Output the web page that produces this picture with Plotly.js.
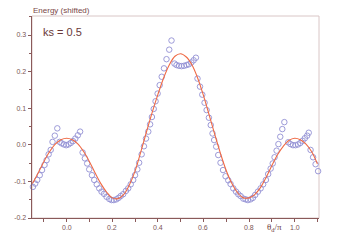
<!DOCTYPE html>
<html><head><meta charset="utf-8">
<script src="https://cdn.plot.ly/plotly-3.0.1.min.js"></script>
<style>html,body{margin:0;padding:0;background:#fff;}#chart{width:348px;height:245px;}</style>
</head><body><div id="chart"></div>
<script>
// Circle series (computed energies)
const thetaPts = [-0.148,-0.138,-0.129,-0.118,-0.108,-0.097,-0.088,-0.079,-0.070,-0.062,-0.052,-0.041,-0.031,-0.022,-0.012,-0.002,0.008,0.018,0.028,0.038,0.049,0.059,
0.070,0.080,0.090,0.099,0.111,0.121,0.132,0.143,0.153,0.164,0.175,0.187,0.197,0.207,0.218,0.228,0.237,0.248,0.260,0.270,0.281,0.292,0.300,0.310,0.318,0.329,0.339,0.348,0.358,
0.366,0.374,0.382,0.390,0.399,0.408,0.417,0.427,0.438,0.450,0.460,
0.473,0.482,0.493,0.504,0.515,0.526,0.536,0.547,0.557,0.567,
0.574,0.585,0.595,0.605,0.614,0.624,0.632,0.640,0.647,0.656,0.665,0.675,0.686,0.697,0.709,0.719,0.731,0.743,0.753,0.763,0.775,0.785,0.795,0.807,0.817,0.827,0.839,0.851,0.862,0.874,0.884,0.895,0.904,0.912,0.921,0.929,0.937,0.946,0.955,
0.972,0.982,0.993,1.004,1.015,1.025,1.035,1.045,1.055,1.062,
1.070,1.081,1.092,1.103];
const energyPts = [-0.115,-0.106,-0.096,-0.083,-0.069,-0.055,-0.042,-0.026,-0.014,0.008,0.025,0.045,0.008,0.004,0.001,-0.001,0.001,0.005,0.010,0.017,0.026,0.036,
-0.021,-0.037,-0.051,-0.067,-0.083,-0.096,-0.108,-0.119,-0.128,-0.134,-0.142,-0.148,-0.151,-0.151,-0.149,-0.145,-0.140,-0.135,-0.126,-0.119,-0.108,-0.096,-0.083,-0.067,-0.049,-0.026,-0.004,0.017,0.036,
0.056,0.076,0.098,0.119,0.140,0.163,0.186,0.209,0.234,0.260,0.285,
0.222,0.218,0.216,0.215,0.216,0.218,0.220,0.225,0.231,0.238,
0.181,0.159,0.137,0.115,0.095,0.074,0.054,0.031,0.013,-0.005,-0.028,-0.049,-0.069,-0.086,-0.097,-0.107,-0.119,-0.128,-0.135,-0.140,-0.147,-0.149,-0.151,-0.149,-0.145,-0.137,-0.128,-0.119,-0.108,-0.096,-0.080,-0.065,-0.051,-0.034,-0.016,0.002,0.022,0.043,0.062,
0.007,0.002,-0.001,-0.001,0.001,0.005,0.011,0.018,0.025,0.033,
-0.014,-0.034,-0.053,-0.072];

// Model curve (red line)
const thetaLine = [-0.15,-0.125,-0.1,-0.075,-0.05,-0.025,0,0.025,0.05,0.075,0.1,0.125,0.15,0.175,0.2,0.225,0.25,0.275,0.3,0.325,0.35,0.375,0.4,0.425,0.45,0.475,0.5,
0.525,0.55,0.575,0.6,0.625,0.65,0.675,0.7,0.725,0.75,0.775,0.8,0.825,0.85,0.875,0.9,0.925,0.95,0.975,1.0,1.025,1.05,1.075,1.1];
const energyLine = [-0.106,-0.077,-0.046,-0.019,0.002,0.014,0.018,0.014,0.002,-0.019,-0.046,-0.077,-0.106,-0.129,-0.145,-0.147,-0.136,-0.110,-0.072,-0.020,0.035,0.088,0.137,0.182,0.218,0.242,0.249,
0.240,0.218,0.182,0.135,0.082,0.028,-0.024,-0.070,-0.106,-0.131,-0.145,-0.145,-0.136,-0.117,-0.089,-0.057,-0.027,-0.004,0.012,0.018,0.014,0.002,-0.019,-0.052];

// Axis ticks
const xTickVals = [-0.1,0.0,0.1,0.2,0.3,0.4,0.5,0.6,0.7,0.8,0.9,1.0,1.1];
const xLabelVals = [0.0,0.2,0.4,0.6,0.8,1.0];
const xLabelText = ["0.0","0.2","0.4","0.6","0.8","1.0"];
const yTickVals = [-0.2,-0.1,0.0,0.1,0.2,0.3];
const yTickText = ["-0.2","-0.1","0.0","0.1","0.2","0.3"];

const axisCol = '#8a5a5a';
const txtCol = '#7a5555';

const traces = [
  {x: thetaPts, y: energyPts, type:'scatter', mode:'markers', cliponaxis:false,
   marker:{symbol:'circle-open', size:5.5, color:'#9290d4', line:{width:0.9, color:'#9290d4'}}, hoverinfo:'none'},
  {x: thetaLine, y: energyLine, type:'scatter', mode:'lines',
   line:{color:'#ef6a45', width:1.1, shape:'spline', smoothing:1}, hoverinfo:'none'}
];

const tickAnnots = xLabelVals.map((v, i) => ({
  xref:'x', yref:'paper', x:v, y:0, xanchor:'center', yanchor:'top', yshift:-4, showarrow:false,
  text:xLabelText[i], font:{size:7, color:txtCol, family:'Liberation Sans, Arial, sans-serif'}
}));

const layout = {
  width:348, height:245,
  margin:{l:32, r:29, t:16, b:27},
  paper_bgcolor:'#ffffff', plot_bgcolor:'#ffffff',
  showlegend:false,
  font:{family:'Liberation Sans, Arial, sans-serif', color:txtCol, size:7},
  xaxis:{range:[-0.152,1.107], tickmode:'array', tickvals:xTickVals, showticklabels:false, showgrid:false, zeroline:false,
    showline:true, linecolor:axisCol, linewidth:1.4, ticks:'outside', ticklen:3, tickwidth:1, tickcolor:axisCol},
  yaxis:{range:[-0.2,0.352], tickmode:'array', tickvals:yTickVals, ticktext:yTickText, showgrid:false, zeroline:false,
    showline:true, linecolor:axisCol, linewidth:1.4, ticks:'outside', ticklen:3, tickwidth:1, tickcolor:axisCol,
    tickfont:{size:7, color:txtCol},
    minor:{dtick:0.1, tick0:0.05, ticks:'outside', ticklen:2, tickwidth:1, tickcolor:axisCol, showgrid:false}},
  shapes:[{type:'rect', xref:'paper', yref:'paper', x0:0, x1:1, y0:0, y1:1, layer:'below',
    line:{color:'#d9c6c6', width:1}}],
  annotations:tickAnnots.concat([
    {xref:'paper', yref:'paper', x:-0.005, y:1.0, xanchor:'left', yanchor:'bottom', showarrow:false,
     text:'Energy (shifted)', font:{size:8, color:'#7a4848'}, yshift:-1},
    {xref:'paper', yref:'paper', x:0.03, y:0.96, xanchor:'left', yanchor:'top', showarrow:false,
     text:'ks = 0.5', font:{size:11, color:'#6a3838'}},
    {xref:'paper', yref:'paper', x:0.878, y:0, xanchor:'right', yanchor:'top', showarrow:false, yshift:-2,
     text:'θ<sub>d</sub>/π', font:{size:9, color:'#6a3838', family:'Liberation Serif, serif'}}
  ])
};
Plotly.newPlot('chart', traces, layout, {staticPlot:true, displayModeBar:false});
</script></body></html>
